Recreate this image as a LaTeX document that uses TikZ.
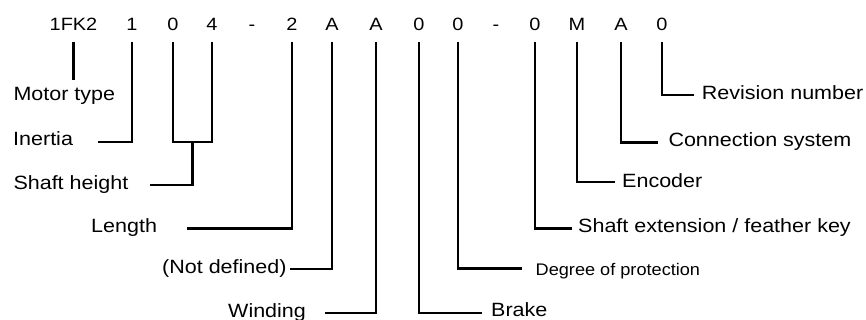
\documentclass[tikz,border=0pt]{standalone}
\usepackage{fontspec}
\setmainfont{Liberation Sans}
\newfontfamily\labfont[FakeStretch=1.12]{Liberation Sans}
\newfontfamily\smallfont[FakeStretch=1.08]{Liberation Sans}
\begin{document}
\begin{tikzpicture}[x=1pt,y=-1pt,
  code/.style={font=\labfont\fontsize{17.8}{20}\selectfont, anchor=base, inner sep=0pt, outer sep=0pt, outer ysep=11.3pt, text depth=0pt},
  lab/.style={font=\labfont\fontsize{19.2}{22}\selectfont, anchor=base west, inner sep=0pt},
  slab/.style={font=\smallfont\fontsize{16.8}{20}\selectfont, anchor=base west, inner sep=0pt},
  conn/.style={line width=2.8pt, line cap=butt, line join=miter}]
\useasboundingbox (0,0) rectangle (866,320);
% code characters
\node[code] (cT)  at (73.5,30.7) {1FK2};
\node[code] (c1)  at (132,30.7) {1};
\node[code] (c2)  at (173,30.7) {0};
\node[code] (c3)  at (212,30.7) {4};
\node[code] (d1)  at (252,30.7) {-};
\node[code] (c4)  at (292,30.7) {2};
\node[code] (c5)  at (332,30.7) {A};
\node[code] (c6)  at (376,30.7) {A};
\node[code] (c7)  at (419,30.7) {0};
\node[code] (c8)  at (458,30.7) {0};
\node[code] (d2)  at (496,30.7) {-};
\node[code] (c9)  at (535,30.7) {0};
\node[code] (c10) at (577,30.7) {M};
\node[code] (c11) at (621,30.7) {A};
\node[code] (c12) at (662,30.7) {0};
% labels
\node[lab] (lMotor) at (13.3,101) {Motor type};
\node[lab] (lIn)    at (13,146) {Inertia};
\node[lab] (lSh)    at (13.3,189.3) {Shaft height};
\node[lab] (lLen)   at (91,232.7) {Length};
\node[lab] (lNd)    at (162,273.5) {(Not defined)};
\node[lab] (lWi)    at (228,317) {Winding};
\node[lab] (lBr)    at (491,316.5) {Brake};
\node[slab] (lDeg)  at (535.5,275) {Degree of protection};
\node[lab] (lExt)   at (578,232.7) {Shaft extension / feather key};
\node[lab] (lEnc)   at (622,188) {Encoder};
\node[lab] (lCon)   at (668.3,146.7) {Connection system};
\node[lab] (lRev)   at (701.7,99.3) {Revision number};
% connector end points
\coordinate (eMotor) at (73.5,80);
\coordinate (eIn)  at (98,142);
\coordinate (j04)  at (192.5,142);
\coordinate (eSh)  at (150,185);
\coordinate (eLen) at (187,228.3);
\coordinate (eNd)  at (290,269);
\coordinate (eWi)  at (325,313);
\coordinate (eBr)  at (482,313);
\coordinate (eDeg) at (522,268.7);
\coordinate (eExt) at (572,228.3);
\coordinate (eEnc) at (615,182);
\coordinate (eCon) at (658,142.3);
\coordinate (eRev) at (694,95);
% connectors
\draw[conn] (cT.south) -- (eMotor);
\draw[conn] (c1.south) |- (eIn);
\draw[conn] (c2.south) |- (j04) -| (c3.south);
\draw[conn] (j04) |- (eSh);
\draw[conn] (c4.south) |- (eLen);
\draw[conn] (c5.south) |- (eNd);
\draw[conn] (c6.south) |- (eWi);
\draw[conn] (c7.south) |- (eBr);
\draw[conn] (c8.south) |- (eDeg);
\draw[conn] (c9.south) |- (eExt);
\draw[conn] (c10.south) |- (eEnc);
\draw[conn] (c11.south) |- (eCon);
\draw[conn] (c12.south) |- (eRev);
\end{tikzpicture}
\end{document}
